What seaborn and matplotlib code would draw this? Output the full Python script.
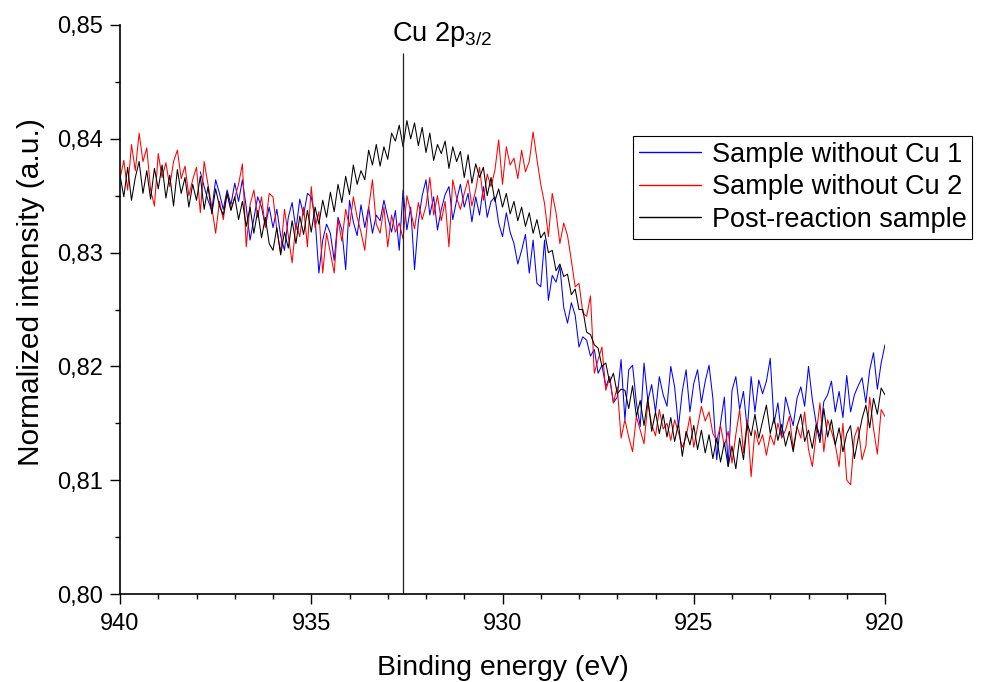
import numpy as np
import pandas as pd
import matplotlib
matplotlib.use("Agg")
import matplotlib.pyplot as plt
from matplotlib.ticker import MultipleLocator, FuncFormatter
import seaborn as sns

# ---------------- data ----------------
energy_main = np.round(np.linspace(940.0, 920.0, 201), 1)   # 0.1 eV steps
energy_blue = energy_main[21:]                                # 937.9 -> 920.0

post_reaction = [
    0.8368, 0.8349, 0.8375, 0.8346, 0.8366, 0.8380, 0.8352, 0.8372, 0.8347, 0.8374,
    0.8356, 0.8377, 0.8348, 0.8368, 0.8341, 0.8373, 0.8352, 0.8366, 0.8340, 0.8360,
    0.8346, 0.8367, 0.8338, 0.8358, 0.8334, 0.8356, 0.8341, 0.8333, 0.8352, 0.8337,
    0.8349, 0.8329, 0.8345, 0.8323, 0.8340, 0.8317, 0.8337, 0.8313, 0.8331, 0.8308,
    0.8302, 0.8322, 0.8298, 0.8318, 0.8304, 0.8328, 0.8308, 0.8332, 0.8316, 0.8337,
    0.8318, 0.8340, 0.8325, 0.8346, 0.8331, 0.8353, 0.8336, 0.8360, 0.8344, 0.8367,
    0.8351, 0.8377, 0.8360, 0.8372, 0.8364, 0.8390, 0.8377, 0.8395, 0.8376, 0.8393,
    0.8382, 0.8405, 0.8398, 0.8412, 0.8393, 0.8416, 0.8400, 0.8414, 0.8394, 0.8410,
    0.8388, 0.8405, 0.8381, 0.8395, 0.8387, 0.8398, 0.8374, 0.8393, 0.8380, 0.8389,
    0.8366, 0.8386, 0.8361, 0.8378, 0.8366, 0.8375, 0.8350, 0.8366, 0.8345, 0.8356,
    0.8340, 0.8352, 0.8334, 0.8345, 0.8328, 0.8340, 0.8323, 0.8335, 0.8317, 0.8329,
    0.8313, 0.8318, 0.8300, 0.8302, 0.8284, 0.8290, 0.8279, 0.8281, 0.8263, 0.8268,
    0.8250, 0.8250, 0.8230, 0.8228, 0.8219, 0.8216, 0.8200, 0.8203, 0.8186, 0.8194,
    0.8176, 0.8180, 0.8179, 0.8163, 0.8183, 0.8156, 0.8170, 0.8148, 0.8172, 0.8143,
    0.8160, 0.8141, 0.8158, 0.8138, 0.8155, 0.8134, 0.8150, 0.8121, 0.8143, 0.8131,
    0.8148, 0.8127, 0.8144, 0.8124, 0.8140, 0.8119, 0.8137, 0.8116, 0.8133, 0.8112,
    0.8130, 0.8110, 0.8137, 0.8118, 0.8150, 0.8139, 0.8158, 0.8137, 0.8152, 0.8166,
    0.8141, 0.8155, 0.8135, 0.8149, 0.8130, 0.8143, 0.8125, 0.8147, 0.8158, 0.8134,
    0.8144, 0.8128, 0.8149, 0.8133, 0.8163, 0.8138, 0.8153, 0.8131, 0.8146, 0.8125,
    0.8141, 0.8148, 0.8119, 0.8137, 0.8154, 0.8166, 0.8146, 0.8172, 0.8158, 0.8181,
    0.8175,
]

sample_no_cu_2 = [
    0.8365, 0.8381, 0.8355, 0.8395, 0.8372, 0.8405, 0.8380, 0.8392, 0.8355, 0.8341,
    0.8387, 0.8366, 0.8379, 0.8358, 0.8380, 0.8390, 0.8365, 0.8376, 0.8350, 0.8364,
    0.8375, 0.8335, 0.8380, 0.8360, 0.8340, 0.8317, 0.8345, 0.8329, 0.8352, 0.8338,
    0.8348, 0.8360, 0.8378, 0.8305, 0.8342, 0.8355, 0.8331, 0.8349, 0.8322, 0.8352,
    0.8349, 0.8320, 0.8300, 0.8338, 0.8315, 0.8291, 0.8326, 0.8314, 0.8340, 0.8305,
    0.8358, 0.8322, 0.8336, 0.8282, 0.8317, 0.8300, 0.8282, 0.8329, 0.8310, 0.8338,
    0.8323, 0.8349, 0.8331, 0.8318, 0.8302, 0.8339, 0.8364, 0.8325, 0.8317, 0.8340,
    0.8305, 0.8333, 0.8318, 0.8326, 0.8312, 0.8350, 0.8336, 0.8321, 0.8344, 0.8329,
    0.8341, 0.8366, 0.8333, 0.8350, 0.8328, 0.8345, 0.8305, 0.8364, 0.8348, 0.8338,
    0.8352, 0.8364, 0.8341, 0.8355, 0.8375, 0.8346, 0.8369, 0.8358, 0.8372, 0.8399,
    0.8360, 0.8393, 0.8377, 0.8383, 0.8365, 0.8390, 0.8371, 0.8380, 0.8406, 0.8382,
    0.8360, 0.8343, 0.8314, 0.8352, 0.8335, 0.8308, 0.8326, 0.8315, 0.8293, 0.8270,
    0.8273, 0.8247, 0.8244, 0.8262, 0.8194, 0.8206, 0.8217, 0.8179, 0.8190, 0.8168,
    0.8182, 0.8137, 0.8153, 0.8138, 0.8125, 0.8156, 0.8144, 0.8132, 0.8168, 0.8149,
    0.8139, 0.8162, 0.8145, 0.8150, 0.8135, 0.8153, 0.8142, 0.8129, 0.8138, 0.8156,
    0.8129, 0.8147, 0.8165, 0.8152, 0.8160, 0.8141, 0.8135, 0.8148, 0.8130, 0.8143,
    0.8115, 0.8140, 0.8162, 0.8124, 0.8153, 0.8103, 0.8144, 0.8131, 0.8140, 0.8122,
    0.8140, 0.8131, 0.8150, 0.8137, 0.8144, 0.8156, 0.8128, 0.8147, 0.8137, 0.8160,
    0.8127, 0.8112, 0.8140, 0.8168, 0.8125, 0.8153, 0.8143, 0.8131, 0.8112, 0.8150,
    0.8100, 0.8096, 0.8138, 0.8147, 0.8118, 0.8130, 0.8173, 0.8145, 0.8123, 0.8162,
    0.8156,
]

sample_no_cu_1 = [
    0.8371, 0.8358, 0.8346, 0.8337, 0.8364, 0.8352, 0.8338, 0.8355, 0.8342, 0.8361,
    0.8345, 0.8364, 0.8340, 0.8311, 0.8330, 0.8349, 0.8340, 0.8323, 0.8340, 0.8322,
    0.8338, 0.8315, 0.8302, 0.8331, 0.8344, 0.8320, 0.8347, 0.8333, 0.8352, 0.8349,
    0.8330, 0.8282, 0.8311, 0.8325, 0.8317, 0.8293, 0.8331, 0.8320, 0.8285, 0.8346,
    0.8327, 0.8315, 0.8342, 0.8322, 0.8340, 0.8317, 0.8333, 0.8328, 0.8346, 0.8331,
    0.8318, 0.8337, 0.8302, 0.8355, 0.8320, 0.8340, 0.8285, 0.8327, 0.8350, 0.8364,
    0.8333, 0.8349, 0.8320, 0.8338, 0.8351, 0.8358, 0.8329, 0.8346, 0.8360, 0.8340,
    0.8352, 0.8327, 0.8349, 0.8333, 0.8358, 0.8331, 0.8345, 0.8349, 0.8326, 0.8314,
    0.8335, 0.8318, 0.8308, 0.8290, 0.8302, 0.8316, 0.8282, 0.8311, 0.8273, 0.8270,
    0.8311, 0.8258, 0.8280, 0.8274, 0.8288, 0.8252, 0.8238, 0.8256, 0.8245, 0.8217,
    0.8226, 0.8223, 0.8209, 0.8215, 0.8194, 0.8201, 0.8182, 0.8191, 0.8168, 0.8173,
    0.8206, 0.8153, 0.8197, 0.8201, 0.8168, 0.8147, 0.8203, 0.8170, 0.8184, 0.8160,
    0.8191, 0.8175, 0.8165, 0.8200, 0.8182, 0.8147, 0.8178, 0.8197, 0.8160, 0.8185,
    0.8197, 0.8168, 0.8187, 0.8201, 0.8172, 0.8118, 0.8150, 0.8173, 0.8112, 0.8179,
    0.8191, 0.8162, 0.8178, 0.8144, 0.8191, 0.8160, 0.8188, 0.8176, 0.8187, 0.8207,
    0.8150, 0.8168, 0.8138, 0.8173, 0.8160, 0.8148, 0.8172, 0.8182, 0.8165, 0.8200,
    0.8171, 0.8150, 0.8138, 0.8169, 0.8175, 0.8187, 0.8160, 0.8178, 0.8155, 0.8192,
    0.8160, 0.8175, 0.8183, 0.8190, 0.8168, 0.8197, 0.8212, 0.8180, 0.8203, 0.8219,
]

series_names = ["Sample without Cu 1", "Sample without Cu 2", "Post-reaction sample"]
series_colors = ["#0000ff", "#ff0000", "#000000"]
peak_energy = 932.6
peak_label = r"Cu 2p$_{3/2}$"

df = pd.concat([
    pd.DataFrame({"energy": energy_blue, "intensity": sample_no_cu_1, "sample": series_names[0]}),
    pd.DataFrame({"energy": energy_main, "intensity": sample_no_cu_2, "sample": series_names[1]}),
    pd.DataFrame({"energy": energy_main, "intensity": post_reaction, "sample": series_names[2]}),
], ignore_index=True)

# ---------------- style ----------------
sns.set_style("ticks")
plt.rcParams["font.family"] = ["Liberation Sans", "DejaVu Sans"]
plt.rcParams["mathtext.fontset"] = "custom"
plt.rcParams["mathtext.rm"] = "Liberation Sans"
plt.rcParams["mathtext.it"] = "Liberation Sans"
plt.rcParams["text.color"] = "black"
plt.rcParams["axes.labelcolor"] = "black"
plt.rcParams["xtick.color"] = "black"
plt.rcParams["ytick.color"] = "black"
plt.rcParams["axes.edgecolor"] = "black"

fig = plt.figure(figsize=(9.81, 6.82), dpi=100)
ax = fig.add_axes([120 / 981, 1 - 594 / 682, 765 / 981, 569 / 682])

sns.lineplot(data=df, x="energy", y="intensity", hue="sample",
             hue_order=series_names, palette=series_colors,
             sort=False, estimator=None, linewidth=0.75, ax=ax)

ax.vlines(peak_energy, 0.80, 0.8475, color="#222222", linewidth=0.9)
ax.text(peak_energy + 0.28, 0.8486, peak_label, ha="left", va="baseline", fontsize=19.5, color="black")

ax.set_xlim(940, 920)
ax.set_ylim(0.80, 0.85)
ax.xaxis.set_major_locator(MultipleLocator(5))
ax.xaxis.set_minor_locator(MultipleLocator(1))
ax.yaxis.set_major_locator(MultipleLocator(0.01))
ax.yaxis.set_minor_locator(MultipleLocator(0.005))
ax.yaxis.set_major_formatter(FuncFormatter(lambda v, p: f"{v:.2f}".replace(".", ",")))
ax.xaxis.set_major_formatter(FuncFormatter(lambda v, p: f"{v:.0f}"))

ax.tick_params(which="major", direction="out", length=7, width=1.0, labelsize=17, colors="black")
ax.tick_params(which="minor", direction="out", length=3.5, width=1.0, colors="black")
ax.tick_params(axis="x", which="major", pad=7)
ax.tick_params(axis="y", which="major", pad=5.5)
for s in ["left", "bottom"]:
    ax.spines[s].set_linewidth(1.2)
    ax.spines[s].set_color("black")
sns.despine(ax=ax)

ax.set_xlabel("Binding energy (eV)", fontsize=20.5, labelpad=14, color="black")
ax.set_ylabel("Normalized intensity (a.u.)", fontsize=21.5, color="black")
ax.yaxis.set_label_coords(-0.098, 0.53)

sns.move_legend(ax, "upper left", bbox_to_anchor=(0.6706, 0.805), title=None,
                frameon=True, fancybox=False, edgecolor="black", framealpha=1,
                fontsize=19.5, handlelength=2.3, handletextpad=0.38, borderpad=0.22,
                labelspacing=0.24, borderaxespad=0)
leg = ax.get_legend()
leg.get_frame().set_linewidth(0.8)
for line in leg.get_lines():
    line.set_linewidth(1.0)
for t in leg.get_texts():
    t.set_color("black")

fig.savefig("out.png", dpi=100)
